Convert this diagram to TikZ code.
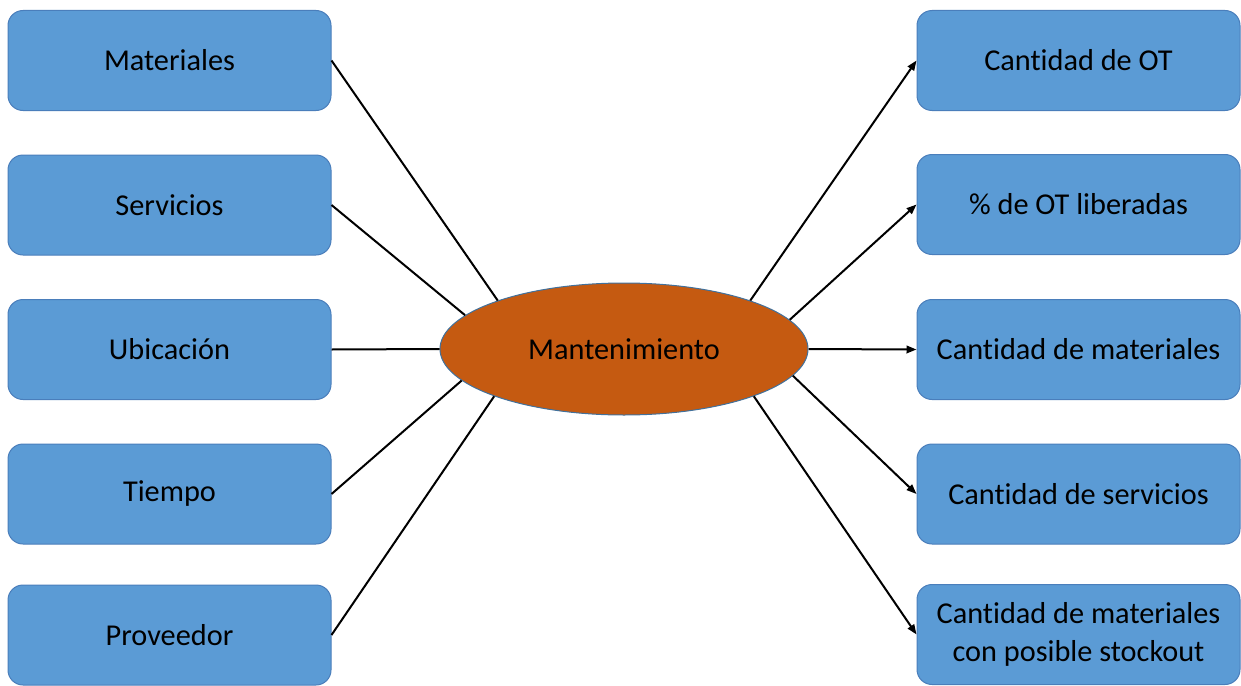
\documentclass[tikz,border=0pt]{standalone}
\usepackage{fontspec}
\setmainfont{Carlito}[Ligatures={NoCommon}]
\usetikzlibrary{shapes.geometric,arrows.meta}
\definecolor{boxfill}{HTML}{5B9BD5}
\definecolor{boxline}{HTML}{4A7EBB}
\definecolor{hubfill}{HTML}{C55A11}
\definecolor{hubline}{HTML}{41719C}
\tikzset{
  item/.style={draw=boxline, line width=1pt, fill=boxfill, rounded corners=15pt,
    minimum width=323pt, minimum height=100pt, inner sep=0pt, align=center,
    font=\fontsize{30.3}{38.5}\selectfont},
  hub/.style={ellipse, draw=hubline, line width=1pt, fill=hubfill,
    minimum width=368pt, minimum height=132pt, inner sep=0pt,
    font=\fontsize{30.3}{38.5}\selectfont},
  link/.style={line width=2pt, black},
  outlink/.style={link, -{Triangle[length=10pt,width=7.5pt]}}
}
\begin{document}
\begin{tikzpicture}[x=1pt,y=-1pt]
  \useasboundingbox (0,0) rectangle (1241,685);
  % central node
  \node[hub] (m) at (624,349) {Mantenimiento};
  % inputs
  \node[item] (a1) at (169.5,60.5) {Materiales};
  \node[item] (a2) at (169.5,205) {Servicios};
  \node[item] (a3) at (169.5,349.5) {Ubicación};
  \node[item] (a4) at (169.5,494) {Tiempo};
  \node[item] (a5) at (169.5,635) {Proveedor};
  % outputs
  \node[item] (b1) at (1078.5,60.5) {Cantidad de OT};
  \node[item] (b2) at (1078.5,204.5) {\% de OT liberadas};
  \node[item] (b3) at (1078.5,349.5) {Cantidad de materiales};
  \node[item] (b4) at (1078.5,494) {Cantidad de servicios};
  \node[item] (b5) at (1078.5,634.5) {Cantidad de materiales\\con posible stockout};
  % connectors into the hub
  \draw[link] (a1.east) -- (m.159.5);
  \draw[link] (a2.east) -- (m.168.8);
  \draw[link] (a3.east) -- (m.west);
  \draw[link] (a4.east) -- (m.191.5);
  \draw[link] (a5.east) -- (m.200.1);
  % arrows out of the hub
  \draw[outlink] (m.21) -- (b1.west);
  \draw[outlink] (m.10.8) -- (b2.west);
  \draw[outlink] (m.east) -- (b3.west);
  \draw[outlink] (m.-9.8) -- (b4.west);
  \draw[outlink] (m.-20.6) -- (b5.west);
\end{tikzpicture}
\end{document}
